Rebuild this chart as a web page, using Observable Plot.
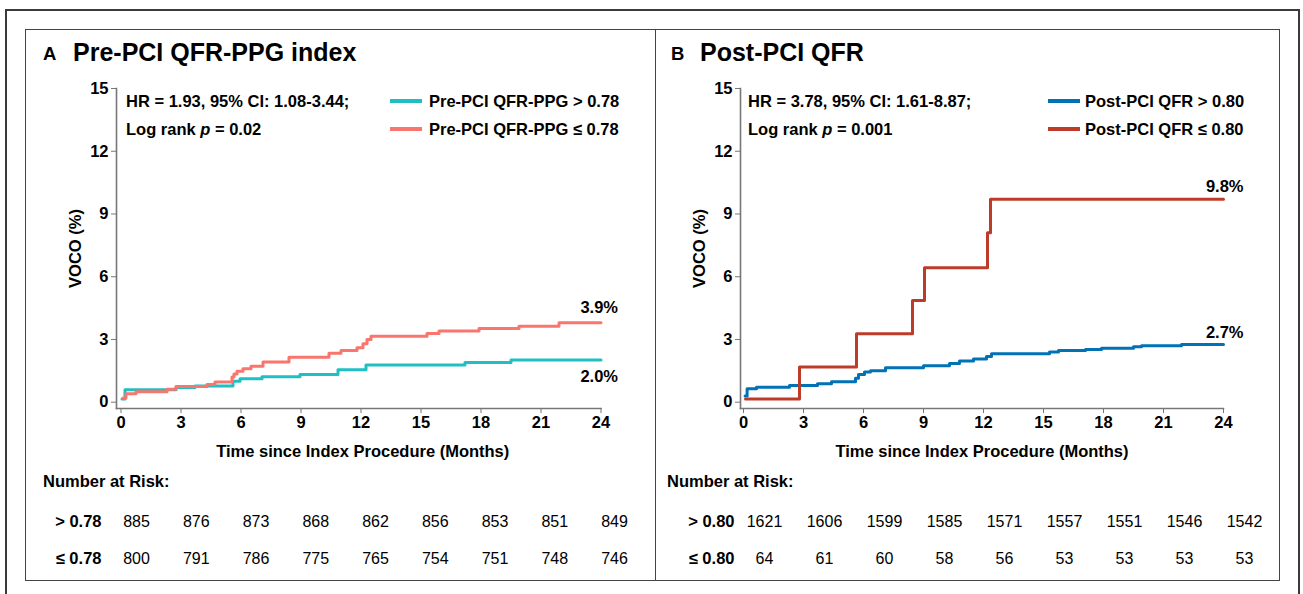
<!DOCTYPE html>
<html>
<head>
<meta charset="utf-8">
<script src="https://cdn.jsdelivr.net/npm/d3@7"></script>
<script src="https://cdn.jsdelivr.net/npm/@observablehq/plot@0.6"></script>
<style>
  body { margin: 0; background: #fff; }
  #page { position: relative; width: 1303px; height: 594px; overflow: hidden; background: #fff;
          font-family: "Liberation Sans", Arial, Helvetica, sans-serif; color: #000; }
  .abs { position: absolute; white-space: nowrap; line-height: 1; }
  .b { font-weight: bold; }
  .box { position: absolute; box-sizing: border-box; }
  .sw { position: absolute; height: 4px; }
</style>
</head>
<body>
<div id="page"></div>
<script>
// ---------------- data ----------------
const months = [0, 3, 6, 9, 12, 15, 18, 21, 24];
const yTicks = [0, 3, 6, 9, 12, 15];

// Panel A: Pre-PCI QFR-PPG index
const aLabels = ["Pre-PCI QFR-PPG > 0.78", "Pre-PCI QFR-PPG ≤ 0.78"];
const aRowLabels = ["> 0.78", "≤ 0.78"];
const aColors = ["#1FBFC4", "#F8766D"];
const aHighT = [0.05, 0.2, 2.75, 3.7, 5.6, 5.95, 7.05, 8.95, 10.85, 12.25, 17.2, 19.5, 24];
const aHighV = [0.15, 0.6, 0.7, 0.78, 1.0, 1.12, 1.22, 1.33, 1.55, 1.78, 1.9, 2.02, 2.02];
const aLowT = [0.1, 0.25, 0.75, 2.3, 2.75, 4.3, 4.7, 5.55, 5.65, 5.8, 6.1, 6.5, 7.1, 8.4, 10.4, 11.0, 11.8, 12.1, 12.3, 12.5, 15.3, 15.9, 17.9, 19.9, 21.9, 24];
const aLowV = [0.2, 0.4, 0.5, 0.62, 0.75, 0.85, 0.97, 1.2, 1.35, 1.48, 1.6, 1.72, 1.92, 2.15, 2.34, 2.47, 2.6, 2.8, 3.0, 3.15, 3.28, 3.4, 3.52, 3.63, 3.8, 3.8];
const aEndLabels = ["2.0%", "3.9%"];
const aRiskHigh = [885, 876, 873, 868, 862, 856, 853, 851, 849];
const aRiskLow = [800, 791, 786, 775, 765, 754, 751, 748, 746];
const aStats = ["HR = 1.93, 95% CI: 1.08-3.44;", "0.02"];

// Panel B: Post-PCI QFR
const bLabels = ["Post-PCI QFR > 0.80", "Post-PCI QFR ≤ 0.80"];
const bRowLabels = ["> 0.80", "≤ 0.80"];
const bColors = ["#0072B5", "#BC3C29"];
const bHighT = [0.08, 0.18, 0.65, 2.3, 3.7, 4.4, 5.6, 5.75, 6.05, 6.35, 7.1, 9.0, 10.3, 10.8, 11.5, 12.15, 12.4, 15.3, 15.75, 17.1, 17.9, 19.5, 19.9, 21.9, 24];
const bHighV = [0.3, 0.64, 0.72, 0.8, 0.88, 0.98, 1.15, 1.33, 1.44, 1.5, 1.65, 1.74, 1.85, 1.97, 2.06, 2.18, 2.32, 2.4, 2.47, 2.52, 2.58, 2.65, 2.7, 2.76, 2.76];
const bLowT = [0.1, 2.8, 5.65, 8.45, 9.05, 12.2, 12.35, 24];
const bLowV = [0.15, 1.68, 3.27, 4.86, 6.43, 8.1, 9.7, 9.7];
const bEndLabels = ["2.7%", "9.8%"];
const bRiskHigh = [1621, 1606, 1599, 1585, 1571, 1557, 1551, 1546, 1542];
const bRiskLow = [64, 61, 60, 58, 56, 53, 53, 53, 53];
const bStats = ["HR = 3.78, 95% CI: 1.61-8.87;", "0.001"];

const yTitle = "VOCO (%)";
const xTitle = "Time since Index Procedure (Months)";
const riskTitle = "Number at Risk:";
// ---------------------------------------

const FONT = '"Liberation Sans", Arial, Helvetica, sans-serif';
const page = document.getElementById("page");

function el(html, css, cls = "abs") {
  const d = document.createElement("div");
  d.className = cls;
  d.innerHTML = html;
  Object.assign(d.style, css);
  page.appendChild(d);
  return d;
}
function place(node, left, top) {
  node.style.position = "absolute";
  node.style.left = left + "px";
  node.style.top = top + "px";
  page.appendChild(node);
}

// outer frame
el("", {left: "5px", top: "9px", width: "1295px", height: "640px", border: "2px solid #3a3a3a"}, "box");

function panel(cfg) {
  el("", {left: cfg.boxLeft + "px", top: "29px", width: cfg.boxWidth + "px", height: "552px", border: "1.5px solid #444"}, "box");
  el(cfg.letter, {left: cfg.letterLeft + "px", top: "45px", fontSize: "18.5px"}, "abs b");
  el(cfg.title, {left: cfg.titleLeft + "px", top: "40px", fontSize: "25px"}, "abs b");
  el(cfg.stats[0], {left: cfg.statsLeft + "px", top: "92.5px", fontSize: "16.5px"}, "abs b");
  el('Log rank <i>p</i> = ' + cfg.stats[1], {left: cfg.statsLeft + "px", top: "121px", fontSize: "16.5px"}, "abs b");
  cfg.labels.forEach((lab, k) => {
    el("", {left: cfg.swLeft + "px", top: (98.8 + 28.3 * k) + "px", width: "32px", background: cfg.colors[k]}, "sw");
    el(lab, {left: cfg.legLeft + "px", top: (92.5 + 28.5 * k) + "px", fontSize: "16.5px"}, "abs b");
  });
  el(riskTitle, {left: cfg.riskLeft + "px", top: "473px", fontSize: "16.5px"}, "abs b");

  // main KM plot
  const series = [{t: cfg.highT, v: cfg.highV}, {t: cfg.lowT, v: cfg.lowV}];
  const marks = [
    Plot.frame({anchor: "left", stroke: "#777", strokeWidth: 1.6}),
    Plot.frame({anchor: "bottom", stroke: "#777", strokeWidth: 1.6}),
    Plot.axisY({ticks: yTicks, tickSize: 5, tickPadding: 3, stroke: "#777", fill: "#000", label: null, tickFormat: d => String(d)}),
    Plot.axisX({ticks: months, tickSize: 5, tickPadding: 3, stroke: "#777", fill: "#000", label: null, tickFormat: d => String(d)}),
    Plot.text([yTitle], {text: d => d, frameAnchor: "left", textAnchor: "middle", lineAnchor: "middle", rotate: -90, dx: -41}),
    Plot.text([xTitle], {text: d => d, frameAnchor: "bottom", textAnchor: "middle", lineAnchor: "middle", dy: 43, dx: cfg.xTitleDx})
  ];
  series.forEach((s, k) => {
    const rows = s.t.map((t, i) => ({t, v: s.v[i]}));
    marks.push(Plot.line(rows, {x: "t", y: "v", stroke: cfg.colors[k], strokeWidth: 3, curve: "step-after"}));
    const last = rows[rows.length - 1];
    marks.push(Plot.text([{...last, label: cfg.endLabels[k]}], {x: "t", y: "v", text: "label", textAnchor: "end", dx: cfg.endDx, dy: cfg.endDy[k]}));
  });
  const main = Plot.plot({
    width: cfg.boxWidth, height: 440,
    marginLeft: cfg.axisX - cfg.boxLeft, marginRight: cfg.boxLeft + cfg.boxWidth - cfg.x24,
    marginTop: 58, marginBottom: 62,
    insetLeft: cfg.inset, insetBottom: 6.3, insetRight: 0, insetTop: 0,
    x: {domain: [0, 24]}, y: {domain: [0, 15]},
    style: {fontFamily: FONT, fontSize: "16.5px", fontWeight: "bold", color: "#000", background: "transparent", overflow: "visible"},
    marks
  });
  place(main, cfg.boxLeft, 30);

  // risk table
  const table = [];
  months.forEach((m, i) => {
    table.push({t: m, row: cfg.rowLabels[0], n: cfg.riskHigh[i]});
    table.push({t: m, row: cfg.rowLabels[1], n: cfg.riskLow[i]});
  });
  const risk = Plot.plot({
    width: cfg.boxWidth, height: 118,
    marginLeft: cfg.r0 - cfg.boxLeft, marginRight: cfg.boxLeft + cfg.boxWidth - cfg.r24,
    marginTop: 0, marginBottom: 0,
    x: {domain: [0, 24], axis: null},
    y: {type: "point", domain: cfg.rowLabels, range: [61, 98], padding: 0, axis: null},
    style: {fontFamily: FONT, fontSize: "16px", color: "#000", background: "transparent", overflow: "visible"},
    marks: [
      Plot.text(cfg.rowLabels, {y: d => d, text: d => d, frameAnchor: "left", textAnchor: "end", lineAnchor: "middle", dx: -cfg.rowPad, fontWeight: "bold", fontSize: 16.5}),
      Plot.text(table, {x: "t", y: "row", text: d => String(d.n), lineAnchor: "middle"})
    ]
  });
  place(risk, cfg.boxLeft, 460);
}

panel({
  boxLeft: 25, boxWidth: 631, letter: "A", letterLeft: 43, title: "Pre-PCI QFR-PPG index", titleLeft: 73,
  stats: aStats, statsLeft: 126, labels: aLabels, colors: aColors, swLeft: 390, legLeft: 429,
  riskLeft: 43, highT: aHighT, highV: aHighV, lowT: aLowT, lowV: aLowV,
  endLabels: aEndLabels, endDx: 17, endDy: [17, -15],
  axisX: 116, inset: 4.5, x24: 600.5, xTitleDx: 4,
  rowLabels: aRowLabels, riskHigh: aRiskHigh, riskLow: aRiskLow, r0: 136, r24: 614, rowPad: 35
});
panel({
  boxLeft: 655, boxWidth: 625, letter: "B", letterLeft: 671, title: "Post-PCI QFR", titleLeft: 700,
  stats: bStats, statsLeft: 748, labels: bLabels, colors: bColors, swLeft: 1048, legLeft: 1085,
  riskLeft: 667, highT: bHighT, highV: bHighV, lowT: bLowT, lowV: bLowV,
  endLabels: bEndLabels, endDx: 20, endDy: [-12, -13],
  axisX: 740, inset: 3, x24: 1223, xTitleDx: 0,
  rowLabels: bRowLabels, riskHigh: bRiskHigh, riskLow: bRiskLow, r0: 764, r24: 1244, rowPad: 30
});
</script>
</body>
</html>
